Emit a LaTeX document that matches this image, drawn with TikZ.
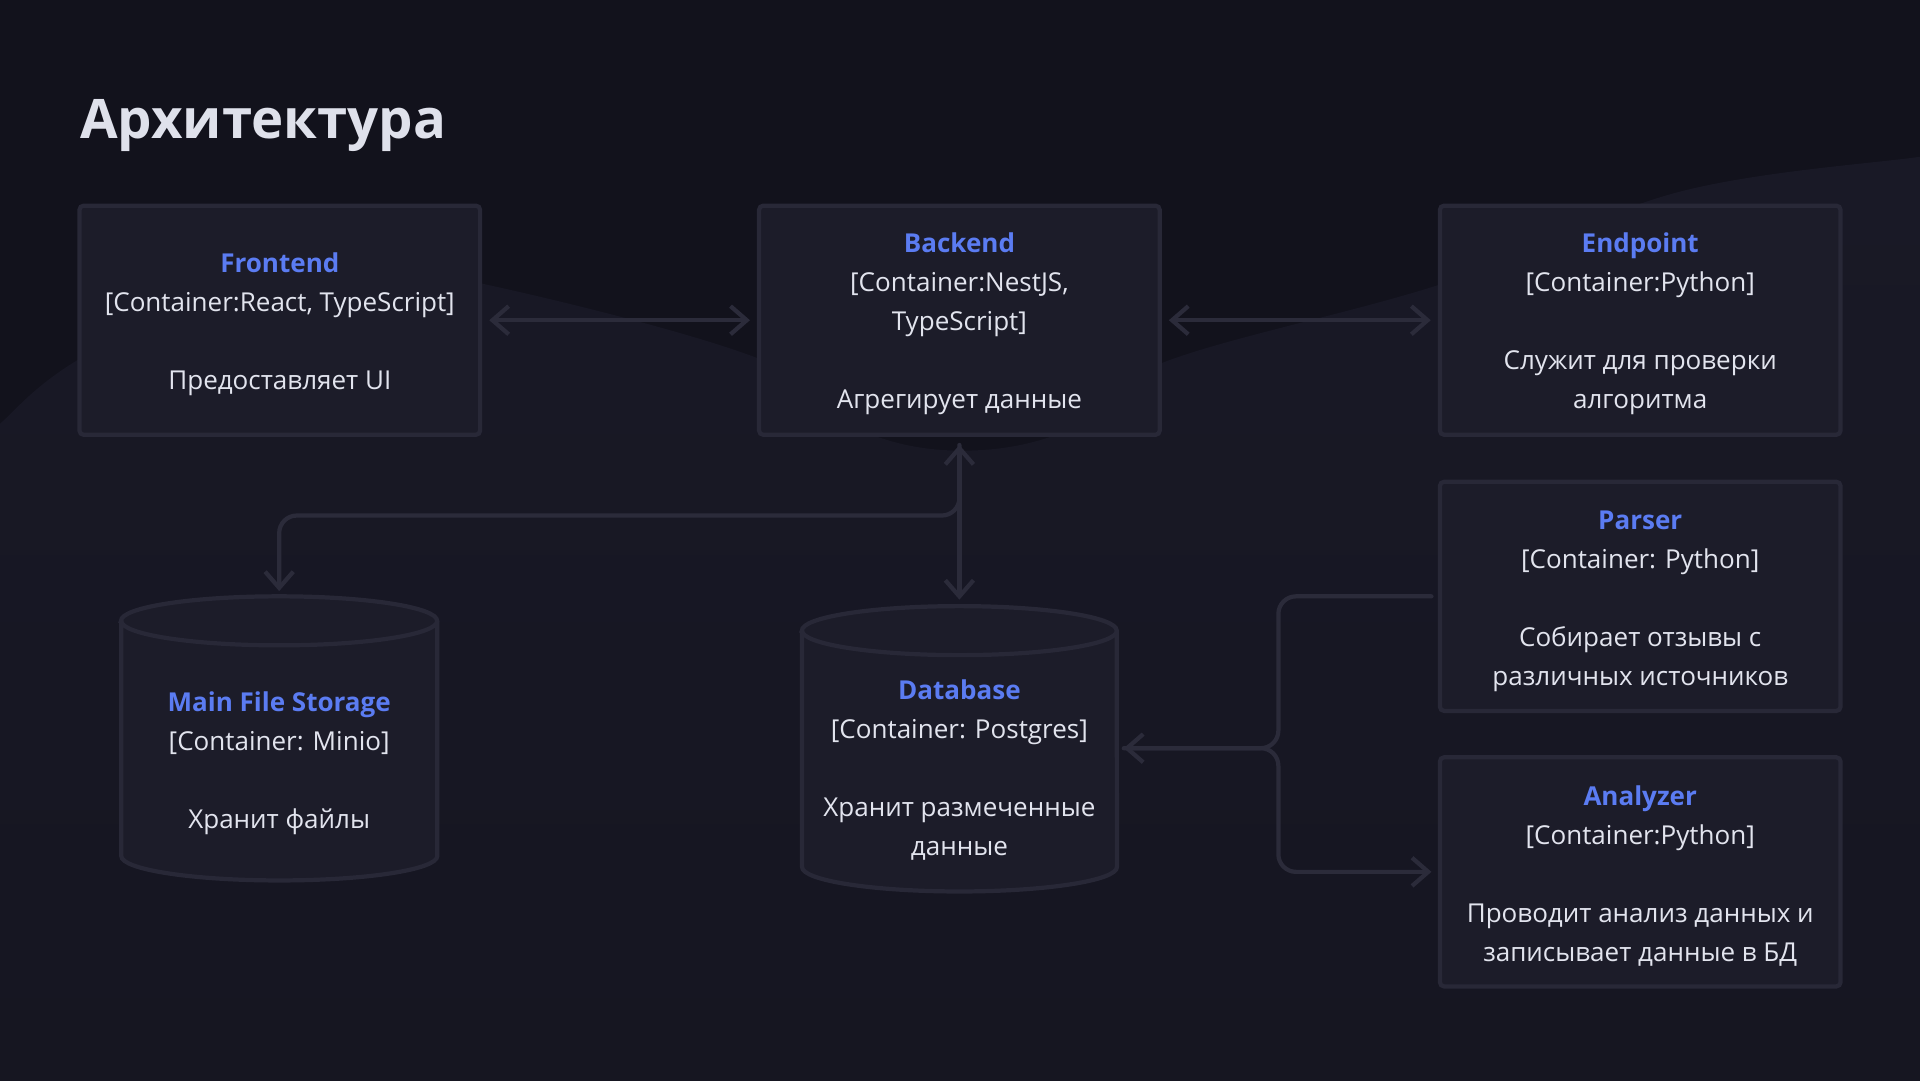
\documentclass[tikz,border=0pt]{standalone}
\usepackage{fontspec}
\setmainfont{Open Sans}
\usetikzlibrary{arrows.meta}
\definecolor{bg}{HTML}{12121C}
\definecolor{wave}{HTML}{191926}
\definecolor{boxfill}{HTML}{1C1C29}
\definecolor{boxline}{HTML}{282837}
\definecolor{conncol}{HTML}{2B2B3A}
\definecolor{ttl}{HTML}{5B7CF2}
\definecolor{txt}{HTML}{E2E4EE}
\definecolor{headcol}{HTML}{DFE1EB}
\newcommand\bodyfont{\fontsize{7.4}{11.1}\selectfont}
\newcommand\nodehead[1]{{\color{ttl}\bfseries #1}}
\begin{document}
\begin{tikzpicture}[x=0.012245cm,y=-0.012245cm,
  >={Straight Barb[length=4.6pt,width=8pt]},
  box/.style={draw=boxline, line width=1.2pt, fill=boxfill, rounded corners=1.2pt,
    minimum width=4.004cm, minimum height=2.29cm, inner sep=0pt},
  ctext/.style={align=center, text=txt, font=\bodyfont, inner sep=0pt},
  cyl/.style={draw=boxline, line width=1.2pt, fill=boxfill},
  cylrim/.style={draw=boxline, line width=1.2pt},
  conn/.style={draw=conncol, line width=1.2pt, line cap=round, line join=round}
]
\useasboundingbox (0,0) rectangle (1568,882);
\fill[bg] (0,0) rectangle (1568,882);
\shade[top color=wave, bottom color=bg!50!wave]
  plot[smooth, tension=0.6] coordinates {(-10,356) (0,346) (65,293) (230,208) (400,233) (620,293) (700,350) (783,368) (870,352) (950,296) (1180,231) (1370,157) (1568,128) (1580,126)}
  -- (1580,892) -- (-10,892) -- cycle;

% title
\node[anchor=base west, inner sep=0pt, text=headcol, font=\fontsize{15.5}{18}\selectfont\bfseries] (title) at (65,113) {Архитектура};

% boxes
\node[box] (frontend) at (228.5,261.5) {};
\node[box] (backend) at (783.5,261.5) {};
\node[box] (endpoint) at (1339.5,261.5) {};
\node[box] (parser) at (1339.5,487) {};
\node[box] (analyzer) at (1339.5,712) {};
\node[ctext] (frontendtxt) at ([yshift=-1.1pt]frontend.center) {\nodehead{Frontend}\\{[Container:React, TypeScript]}\\[11.1pt]Предоставляет UI};
\node[ctext] (backendtxt) at ([yshift=-1.1pt]backend.center) {\nodehead{Backend}\\{[Container:NestJS,}\\TypeScript]\\[11.1pt]Агрегирует данные};
\node[ctext] (endpointtxt) at ([yshift=-1.1pt]endpoint.center) {\nodehead{Endpoint}\\{[Container:Python]}\\[11.1pt]Служит для проверки\\алгоритма};
\node[ctext] (parsertxt) at ([yshift=-1.3pt]parser.center) {\nodehead{Parser}\\{[Container: Python]}\\[11.1pt]Собирает отзывы с\\различных источников};
\node[ctext] (analyzertxt) at ([yshift=-1.1pt]analyzer.center) {\nodehead{Analyzer}\\{[Container:Python]}\\[11.1pt]Проводит анализ данных и\\записывает данные в БД};

% cylinder: Main File Storage
\path[cyl] (99,507) -- (99,699) arc[start angle=180,end angle=360,x radius=1.5796cm,y radius=0.2449cm]
  -- (357,507) arc[start angle=0,end angle=180,x radius=1.5796cm,y radius=0.2449cm] -- cycle;
\draw[cylrim] (99,507) arc[start angle=180,end angle=360,x radius=1.5796cm,y radius=0.2449cm];
\node[ctext] (mfs) at (228,623) {\nodehead{Main File Storage}\\{[Container: Minio]}\\[11.1pt]Хранит файлы};

% cylinder: Database
\path[cyl] (655,515) -- (655,708) arc[start angle=180,end angle=360,x radius=1.5735cm,y radius=0.2449cm]
  -- (912,515) arc[start angle=0,end angle=180,x radius=1.5735cm,y radius=0.2449cm] -- cycle;
\draw[cylrim] (655,515) arc[start angle=180,end angle=360,x radius=1.5735cm,y radius=0.2449cm];
\node[ctext] (db) at (783.5,629) {\nodehead{Database}\\{[Container: Postgres]}\\[11.1pt]Хранит размеченные\\данные};

% anchor coordinates
\coordinate (dbtop) at (783.5,494);
\coordinate (j1) at (783.5,421);
\coordinate (mfstop) at (228,487);
\coordinate (bus) at (1044,611);
\coordinate (dbR) at (912,611);

% connectors
\draw[conn,<->,shorten <=2pt,shorten >=2pt] (frontend.east) -- (backend.west);
\draw[conn,<->,shorten <=2pt,shorten >=2pt] (backend.east) -- (endpoint.west);
\draw[conn,<->,shorten <=2.3pt,shorten >=1.5pt] (backend.south) -- (dbtop);
\draw[conn,->,rounded corners=5pt,shorten <=2.3pt,shorten >=1.5pt] (backend.south) -- (j1) -| (mfstop);
\draw[conn,->,rounded corners=5pt,shorten <=1.8pt,shorten >=2pt] (parser.west) -| (bus) -- (dbR);
\draw[conn,->,rounded corners=5pt,shorten <=2pt,shorten >=1.8pt] (dbR) -- (bus) |- (analyzer.west);
\end{tikzpicture}
\end{document}
